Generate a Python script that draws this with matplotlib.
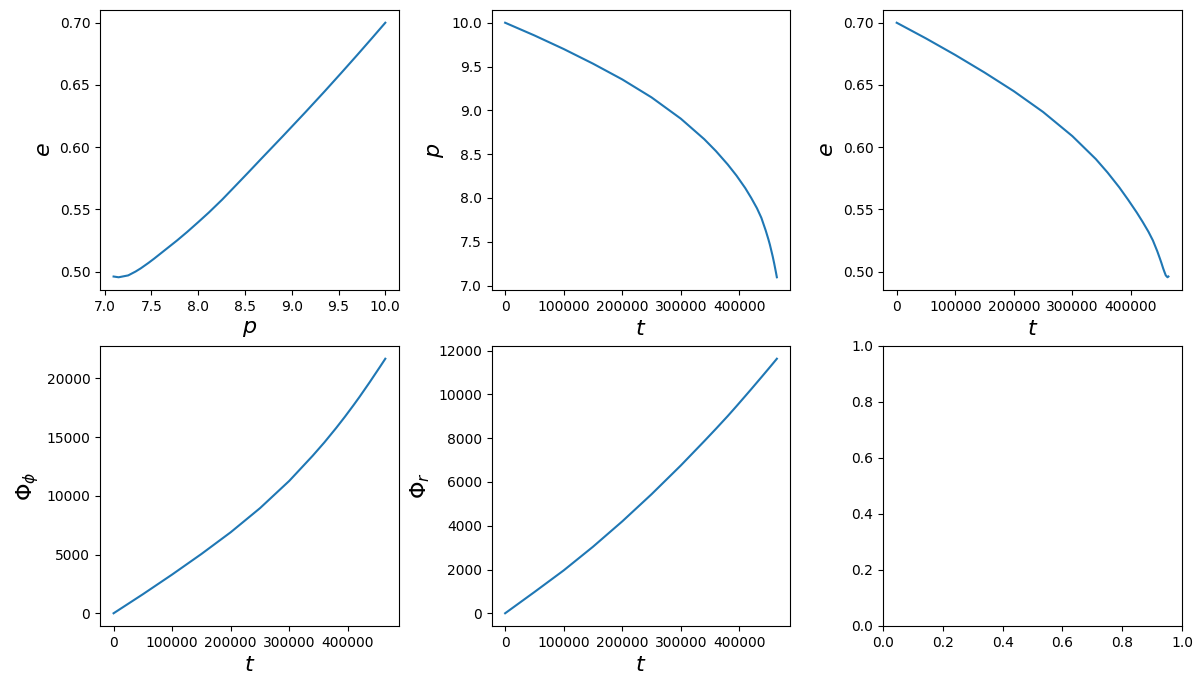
import numpy as np
import matplotlib
matplotlib.use("Agg")
import matplotlib.pyplot as plt

# Orbit evolution (t in units of M)
t = np.array([0, 50e3, 100e3, 150e3, 200e3, 250e3, 300e3, 340e3, 360e3, 380e3,
              395e3, 410e3, 420e3, 430e3, 437.5e3, 445e3, 449.5e3, 452e3, 455e3,
              457e3, 459.5e3, 462.5e3, 464e3])
p = np.array([10.000, 9.855, 9.700, 9.533, 9.353, 9.148, 8.905, 8.671, 8.535, 8.383,
              8.256, 8.113, 8.003, 7.883, 7.774, 7.628, 7.529, 7.469, 7.386,
              7.330, 7.251, 7.149, 7.095])
e = np.array([0.7000, 0.6874, 0.6741, 0.6600, 0.6450, 0.6283, 0.6089, 0.5905, 0.5797,
              0.5678, 0.5579, 0.5475, 0.5400, 0.5320, 0.5251, 0.5164, 0.5105, 0.5071,
              0.5027, 0.5001, 0.4970, 0.4955, 0.4961])
phi_phi = np.array([0, 1620, 3300, 5050, 6900, 8950, 11275, 13415, 14555, 15775,
                    16735, 17740, 18430, 19150, 19690, 20250, 20585, 20771, 20995,
                    21146, 21335, 21562, 21677])
phi_r = np.array([0, 970, 1960, 3040, 4200, 5440, 6755, 7865, 8431, 9010,
                  9463, 9925, 10235, 10549, 10785, 11023, 11166, 11246, 11342,
                  11406, 11487, 11584, 11633])

e_ticks = [0.50, 0.55, 0.60, 0.65, 0.70]

fig, axes = plt.subplots(2, 3, figsize=(12.03, 6.88))
fig.subplots_adjust(left=100/1203, right=1182/1203, top=1 - 10/688,
                    bottom=1 - 626/688, wspace=0.31, hspace=0.2)

lab = 16

ax = axes[0, 0]
ax.plot(p, e)
ax.set_yticks(e_ticks)
ax.set_xlabel(r"$p$", fontsize=lab)
ax.set_ylabel(r"$e$", fontsize=lab)

ax = axes[0, 1]
ax.plot(t, p)
ax.set_xlabel(r"$t$", fontsize=lab)
ax.set_ylabel(r"$p$", fontsize=lab)

ax = axes[0, 2]
ax.plot(t, e)
ax.set_yticks(e_ticks)
ax.set_xlabel(r"$t$", fontsize=lab)
ax.set_ylabel(r"$e$", fontsize=lab)

ax = axes[1, 0]
ax.plot(t, phi_phi)
ax.set_xlabel(r"$t$", fontsize=lab)
ax.set_ylabel(r"$\Phi_\phi$", fontsize=lab)

ax = axes[1, 1]
ax.plot(t, phi_r)
ax.set_xlabel(r"$t$", fontsize=lab)
ax.set_ylabel(r"$\Phi_r$", fontsize=lab)

# last panel left empty, as in the original
fig.savefig("out.png", dpi=100)
